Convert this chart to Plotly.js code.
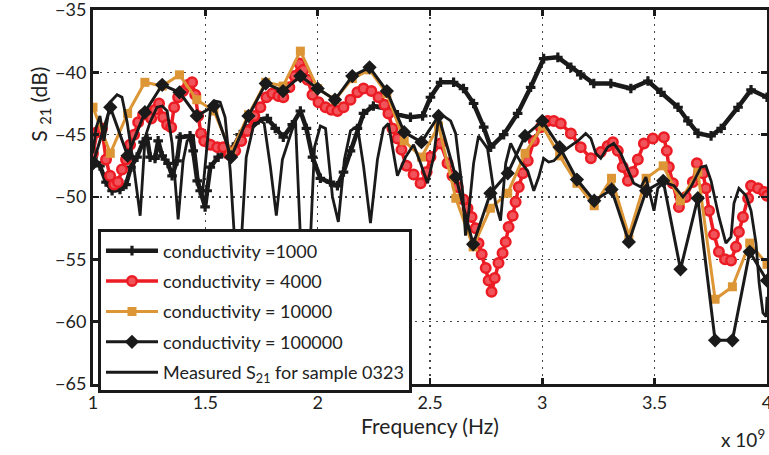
<!DOCTYPE html>
<html><head><meta charset="utf-8">
<script src="https://cdn.plot.ly/plotly-3.0.1.min.js"></script>
<style>html,body{margin:0;padding:0;background:#fff}#chart{width:769px;height:455px}</style>
</head><body><div id="chart"></div>
<script>
// ---- data (frequency in units of 1e9 Hz, S21 in dB) ----
const freq1000 = [1.000,1.031,1.058,1.085,1.120,1.147,1.169,1.196,1.223,1.241,1.254,1.276,1.290,1.308,1.334,1.352,1.374,1.388,1.432,1.446,1.464,1.477,1.499,1.508,1.522,1.557,1.588,1.624,1.655,1.700,1.736,1.776,1.811,1.847,1.887,1.923,1.950,1.977,2.012,2.057,2.088,2.115,2.146,2.177,2.204,2.248,2.302,2.355,2.413,2.467,2.502,2.547,2.605,2.649,2.694,2.739,2.770,2.828,2.890,2.948,3.006,3.069,3.127,3.171,3.229,3.305,3.394,3.470,3.528,3.604,3.648,3.693,3.751,3.796,3.871,3.929,4.000];
const s1000 = [-46.8,-47.5,-48.8,-49.5,-49.4,-49.0,-47.6,-46.8,-45.6,-45.3,-46.8,-46.9,-45.5,-46.7,-47.3,-48.3,-47.1,-45.2,-45.1,-46.3,-48.7,-49.5,-50.8,-49.5,-47.6,-46.8,-46.5,-46.0,-45.0,-44.3,-43.8,-43.7,-44.5,-45.2,-44.2,-43.1,-44.5,-46.8,-48.5,-48.8,-49.1,-48.0,-46.3,-44.5,-43.3,-42.7,-42.9,-43.4,-43.6,-43.5,-42.0,-40.8,-40.8,-41.3,-42.5,-44.4,-46.0,-45.0,-43.3,-41.2,-38.9,-38.8,-39.6,-40.2,-40.9,-40.9,-41.3,-40.7,-41.6,-42.8,-43.9,-44.9,-45.1,-44.5,-42.8,-41.4,-42.0];

const freq4000 = [1.000,1.018,1.040,1.058,1.076,1.094,1.111,1.129,1.147,1.165,1.183,1.201,1.223,1.241,1.259,1.276,1.294,1.312,1.330,1.348,1.361,1.379,1.401,1.424,1.441,1.455,1.468,1.481,1.495,1.522,1.553,1.580,1.606,1.633,1.660,1.687,1.718,1.745,1.772,1.798,1.825,1.847,1.874,1.897,1.919,1.937,1.955,1.977,2.004,2.035,2.061,2.088,2.115,2.146,2.177,2.204,2.239,2.271,2.297,2.315,2.333,2.355,2.373,2.395,2.427,2.458,2.485,2.502,2.547,2.578,2.600,2.623,2.649,2.667,2.685,2.703,2.716,2.730,2.748,2.761,2.774,2.788,2.805,2.823,2.837,2.850,2.868,2.881,2.895,2.913,2.935,2.962,2.993,3.024,3.051,3.082,3.127,3.171,3.216,3.260,3.291,3.314,3.336,3.358,3.381,3.403,3.425,3.452,3.492,3.541,3.554,3.563,3.581,3.608,3.639,3.670,3.688,3.715,3.728,3.742,3.764,3.786,3.813,3.840,3.862,3.875,3.893,3.916,3.929,3.960,3.987,4.000];
const s4000 = [-46.5,-44.8,-44.5,-47.0,-48.3,-49.0,-48.8,-47.8,-47.0,-45.8,-45.0,-44.0,-43.4,-43.3,-43.7,-43.0,-42.5,-43.6,-44.2,-44.4,-42.8,-42.0,-41.5,-41.0,-40.8,-41.8,-43.5,-44.9,-45.5,-45.8,-46.0,-46.0,-46.6,-46.3,-45.5,-44.7,-43.5,-42.8,-42.0,-41.7,-41.9,-42.0,-41.2,-40.3,-39.3,-39.8,-40.6,-41.8,-42.4,-42.8,-43.0,-43.1,-42.8,-42.2,-41.6,-41.3,-41.5,-42.0,-42.6,-43.3,-44.5,-45.3,-46.2,-47.5,-48.2,-48.9,-48.0,-46.8,-45.7,-47.3,-48.3,-49.2,-50.2,-50.9,-51.6,-52.5,-53.7,-54.6,-55.7,-56.7,-57.6,-56.5,-55.3,-54.5,-53.6,-52.4,-51.5,-50.4,-49.2,-48.1,-47.1,-45.5,-44.4,-43.9,-43.9,-44.1,-44.9,-46.0,-46.9,-46.4,-45.9,-45.6,-46.3,-47.6,-48.7,-48.0,-47.0,-45.7,-45.3,-45.2,-46.3,-47.6,-48.9,-50.8,-50.0,-48.8,-47.3,-48.1,-49.3,-51.1,-53.0,-54.4,-55.0,-55.1,-54.0,-52.8,-51.6,-50.1,-49.1,-49.3,-49.6,-49.9];

const freqGrid = [1.000,1.077,1.154,1.231,1.308,1.385,1.462,1.538,1.615,1.692,1.769,1.846,1.923,2.000,2.077,2.154,2.231,2.308,2.385,2.462,2.538,2.615,2.692,2.769,2.846,2.923,3.000,3.077,3.154,3.231,3.308,3.385,3.462,3.538,3.615,3.692,3.769,3.846,3.923,4.000];
const s10000 = [-42.8,-46.5,-43.3,-40.8,-41.1,-40.2,-42.2,-43.1,-46.4,-43.4,-40.8,-41.1,-38.3,-41.3,-42.2,-40.5,-39.8,-41.7,-45.5,-46.8,-44.3,-50.1,-54.0,-50.9,-49.7,-46.5,-44.3,-46.7,-48.9,-50.7,-48.5,-53.1,-48.5,-47.5,-50.3,-48.0,-58.2,-57.2,-53.7,-55.4];
const s100000 = [-47.3,-42.8,-46.7,-43.2,-41.0,-41.6,-43.5,-42.7,-46.8,-43.5,-40.9,-41.5,-40.3,-41.3,-42.2,-40.3,-39.6,-41.5,-44.8,-45.6,-43.5,-48.4,-53.8,-49.7,-48.1,-45.1,-43.9,-46.0,-48.6,-50.3,-49.4,-53.6,-49.5,-48.7,-55.8,-50.1,-61.5,-61.5,-54.4,-56.7];

const freqMeas = [1.000,1.013,1.031,1.049,1.076,1.107,1.129,1.152,1.178,1.210,1.232,1.254,1.285,1.308,1.330,1.352,1.379,1.401,1.419,1.446,1.468,1.486,1.522,1.544,1.566,1.588,1.611,1.646,1.682,1.713,1.745,1.762,1.789,1.816,1.843,1.870,1.901,1.932,1.959,1.986,2.012,2.035,2.066,2.092,2.119,2.146,2.177,2.204,2.235,2.266,2.293,2.315,2.355,2.391,2.427,2.458,2.489,2.516,2.538,2.560,2.592,2.614,2.627,2.645,2.658,2.672,2.694,2.716,2.756,2.770,2.792,2.814,2.823,2.837,2.859,2.881,2.904,2.935,2.962,2.984,3.006,3.028,3.051,3.082,3.118,3.158,3.193,3.216,3.238,3.260,3.291,3.318,3.349,3.381,3.407,3.439,3.461,3.497,3.514,3.541,3.586,3.626,3.661,3.706,3.728,3.751,3.786,3.817,3.840,3.853,3.875,3.907,3.929,3.951,3.965,3.982,3.996,4.000];
const sMeas = [-46.5,-44.5,-43.5,-45.5,-42.4,-41.8,-42.0,-44.0,-47.1,-51.5,-45.2,-44.0,-42.8,-42.7,-43.1,-45.7,-51.8,-47.1,-45.5,-45.0,-48.5,-50.0,-43.1,-42.3,-42.4,-43.6,-47.9,-58.0,-46.8,-44.4,-43.9,-44.1,-47.5,-51.5,-47.0,-45.5,-43.8,-57.0,-57.0,-46.0,-44.3,-44.5,-50.0,-52.0,-47.0,-44.7,-44.3,-47.5,-52.1,-47.0,-44.5,-44.1,-48.3,-46.8,-45.8,-47.3,-48.9,-46.8,-43.6,-43.5,-43.9,-44.9,-46.8,-49.5,-53.1,-51.3,-47.3,-45.1,-46.1,-47.9,-50.5,-51.9,-50.0,-47.3,-45.7,-46.5,-47.2,-47.9,-49.5,-48.4,-46.9,-47.2,-47.1,-46.5,-46.0,-45.5,-44.9,-45.3,-46.5,-46.9,-46.0,-45.7,-46.5,-47.9,-48.9,-49.2,-48.4,-51.1,-49.3,-48.8,-49.1,-50.0,-49.2,-47.6,-47.5,-48.7,-51.6,-53.7,-53.2,-50.5,-49.3,-49.9,-51.1,-53.7,-56.9,-59.3,-59.6,-58.0];

const seriesNames = ['conductivity =1000','conductivity = 4000','conductivity = 10000','conductivity = 100000','Measured S<sub>21</sub> for sample 0323'];
const xTickVals = [1,1.5,2,2.5,3,3.5,4];
const xTickText = ['1','1.5','2','2.5','3','3.5','4'];
const yTickVals = [-65,-60,-55,-50,-45,-40,-35];

// ---- styling ----
const BLACK = '#1a1a1a', RED = '#ec1c24', ORANGE = '#dd9636';
const FONT = 'Lato, "Open Sans", sans-serif';

const traces = [
  {x: freq1000, y: s1000, name: seriesNames[0], legendgroup:'a', mode:'lines+markers',
   line:{color:BLACK, width:4.5}, marker:{symbol:'cross', size:8, color:BLACK}},
  {x: freq4000, y: s4000, name: seriesNames[1], legendgroup:'b', mode:'lines+markers',
   line:{color:RED, width:3.5}, marker:{symbol:'circle', size:9.5, color:'#f0545a', line:{color:RED, width:2.5}}},
  {x: freqGrid, y: s10000, name: seriesNames[2], legendgroup:'c', mode:'lines+markers',
   line:{color:ORANGE, width:3}, marker:{symbol:'square', size:9, color:ORANGE}},
  {x: freqGrid, y: s100000, name: seriesNames[3], legendgroup:'d', mode:'lines+markers',
   line:{color:BLACK, width:3}, marker:{symbol:'diamond', size:11, color:BLACK}},
  {x: freqMeas, y: sMeas, name: seriesNames[4], legendgroup:'e', mode:'lines',
   line:{color:BLACK, width:2.8}}
];

const axisCommon = {
  showline:true, linecolor:BLACK, linewidth:3, mirror:'ticks',
  ticks:'inside', ticklen:6, tickwidth:2.5, tickcolor:BLACK,
  showgrid:true, gridcolor:'#444', gridwidth:1.2, griddash:'2px,5px',
  zeroline:false, ticklabeloverflow:'allow',
  tickfont:{family:FONT, size:18, color:'#222'}
};

const layout = {
  width:769, height:455,
  margin:{l:93, r:2, t:10, b:71},
  paper_bgcolor:'#fff', plot_bgcolor:'#fff',
  font:{family:FONT, color:'#222'},
  xaxis: Object.assign({}, axisCommon, {
    range:[1,4], tickvals:xTickVals, ticktext:xTickText,
    title:{text:'Frequency (Hz)', font:{family:FONT, size:21, color:'#222'}, standoff:2}
  }),
  yaxis: Object.assign({}, axisCommon, {
    range:[-65,-35], tickvals:yTickVals
  }),
  showlegend:true,
  legend:{
    x:0.0074, y:0.4133, xanchor:'left', yanchor:'top',
    bgcolor:'#fff', bordercolor:BLACK, borderwidth:3,
    font:{family:FONT, size:18, color:'#222'},
    itemwidth:52, tracegroupgap:4, traceorder:'grouped'
  },
  annotations:[
    {text:'S <sub>21</sub> (dB)', textangle:-90, xref:'paper', yref:'paper',
     x:-0.079, y:0.749, xanchor:'center', yanchor:'middle', showarrow:false,
     font:{family:FONT, size:21, color:'#222'}},
    {text:'x 10<sup>9</sup>', xref:'paper', yref:'paper', x:1.0, y:-0.145,
     xanchor:'right', yanchor:'middle', showarrow:false,
     font:{family:FONT, size:19, color:'#222'}}
  ]
};

Plotly.newPlot('chart', traces, layout, {staticPlot:true, displayModeBar:false});
</script></body></html>
